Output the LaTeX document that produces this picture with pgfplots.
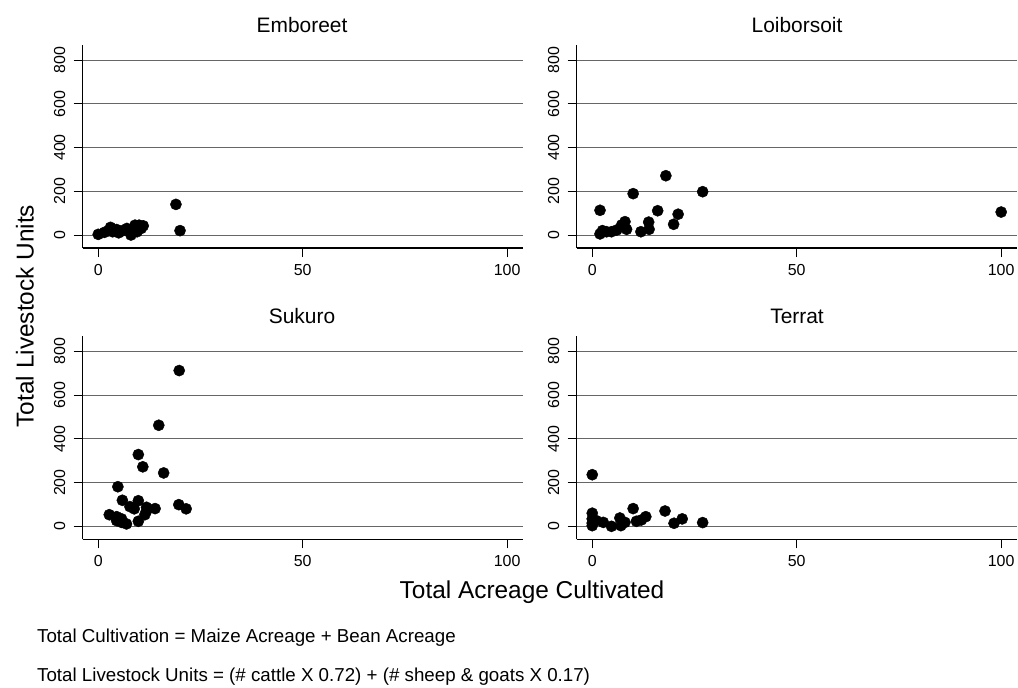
\documentclass[border=0pt]{standalone}
\usepackage{fontspec}
\setmainfont{Liberation Sans}
\usepackage{pgfplots}
\pgfplotsset{compat=1.18}
\usepackage{pgfplotstable}

\pgfplotstableread{
x y
0 3
1.5 12
2.5 20
3 35
3.5 15
4.5 25
5 10
6 20
7 30
8 0
8.5 25
9 45
9.5 15
10 45
10.5 30
11 42
19 140
20 20
}\emboreet

\pgfplotstableread{
x y
18 271
10 189
27 198
1.9 113
16 111
21 95
19.9 49
13.8 59
13.9 26
11.9 15
8 61
8.4 26
7.2 46
6 23
4.7 15
3.5 15
1.9 5
2.5 20
100 105
}\loiborsoit

\pgfplotstableread{
x y
19.8 712
14.8 462
9.8 328
10.9 272
16 244
4.8 181
5.9 119
9.8 117
7.75 90
8.8 80
11.8 87
13.9 81
19.7 99
21.5 80
2.7 53
4.5 44
5.7 34
4.5 26
5.7 18
6.9 11
9.8 23
11.4 53
11.8 70
}\sukuro

\pgfplotstableread{
x y
0 236
0 60
0 34
0 3
0 15
1 26
2.7 18
4.7 0
6.75 38
7 3
8 18
10 81
10.8 23
12 29
13.1 44
17.8 70
20 14
22 34
27 17
}\terrat

\pgfplotsset{
  panel/.style={
    scale only axis,
    width=440bp, height=203bp,
    anchor=south west,
    xmin=-3.8, xmax=103.8,
    ymin=-59.4, ymax=868.6,
    axis x line*=bottom, axis y line*=left,
    axis line style={-, black, line width=1.2bp},
    xtick={0,50,100},
    ytick={0,200,400,600,800},
    tick align=outside,
    major tick length=9bp,
    tick style={black, line width=1bp},
    ymajorgrids,
    grid style={black!60, line width=0.9bp},
    /pgf/number format/assume math mode=true,
    tick label style={font=\fontsize{16}{16}\selectfont},
    yticklabel style={xshift=-5bp, rotate=90, anchor=south},
    xticklabel style={yshift=-4bp},
    clip=false,
  },
  pts/.style={only marks, mark=*, mark size=5.6bp, mark options={fill=black, draw=black}},
}

\begin{document}
\begin{tikzpicture}[x=1bp,y=1bp]
\path[use as bounding box] (0,0) rectangle (1018,-688);

\begin{axis}[panel, at={(82.7bp,-248bp)}]
\addplot[pts] table[x=x,y=y] {\emboreet};
\end{axis}
\begin{axis}[panel, at={(576.7bp,-248bp)}]
\addplot[pts] table[x=x,y=y] {\loiborsoit};
\end{axis}
\begin{axis}[panel, at={(82.7bp,-539.3bp)}]
\addplot[pts] table[x=x,y=y] {\sukuro};
\end{axis}
\begin{axis}[panel, at={(576.7bp,-539.3bp)}]
\addplot[pts] table[x=x,y=y] {\terrat};
\end{axis}

\node[font=\fontsize{21}{24}\selectfont] at (302,-25) {Emboreet};
\node[font=\fontsize{21}{24}\selectfont] at (797,-25) {Loiborsoit};
\node[font=\fontsize{21}{24}\selectfont] at (302,-316) {Sukuro};
\node[font=\fontsize{21}{24}\selectfont] at (797,-316) {Terrat};

\node[font=\fontsize{24.5}{28}\selectfont, rotate=90] at (25,-316) {Total Livestock Units};
\node[font=\fontsize{24.5}{28}\selectfont] at (532,-592) {Total Acreage Cultivated};
\node[font=\fontsize{18.8}{22}\selectfont, anchor=west, inner sep=0pt] at (37,-638) {Total Cultivation = Maize Acreage + Bean Acreage};
\node[font=\fontsize{18.8}{22}\selectfont, anchor=west, inner sep=0pt] at (37,-677) {Total Livestock Units = (\# cattle X 0.72) + (\# sheep \& goats X 0.17)};
\end{tikzpicture}
\end{document}
